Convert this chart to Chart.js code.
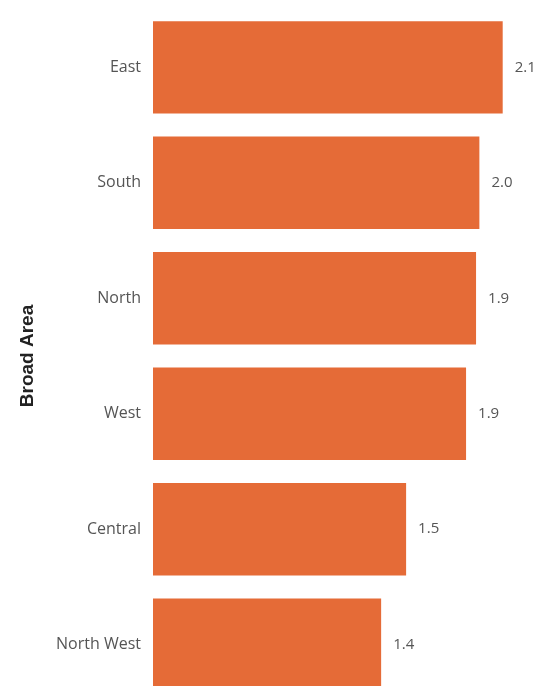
<!DOCTYPE html>
<html>
<head>
<meta charset="utf-8">
<script src="https://cdn.jsdelivr.net/npm/chart.js@4.4.0/dist/chart.umd.min.js"></script>
<style>
  html, body { margin: 0; padding: 0; background: #fff; overflow: hidden; }
  #grafico { display: block; margin-top: -12px; }
</style>
</head>
<body>
<canvas id="grafico" width="541" height="736"></canvas>
<script>
// dados
var areas = ['East', 'South', 'North', 'West', 'Central', 'North West'];
var valores = [2.1, 1.96, 1.94, 1.88, 1.52, 1.37];

// rótulos de valor no fim de cada barra
var rotulosValor = {
    id: 'rotulosValor',
    afterDatasetsDraw: function (chart) {
        var ctx = chart.ctx;
        var meta = chart.getDatasetMeta(0);
        ctx.save();
        ctx.font = '15px "Open Sans"';
        ctx.fillStyle = '#555';
        ctx.textAlign = 'left';
        ctx.textBaseline = 'middle';
        meta.data.forEach(function (bar, i) {
            ctx.fillText(valores[i].toFixed(1), bar.x + 12, bar.y);
        });
        ctx.restore();
    }
};

new Chart(document.getElementById('grafico'), {
    type: 'bar',
    data: {
        labels: areas,
        datasets: [{
            data: valores,
            backgroundColor: '#E56B37',
            borderWidth: 0,
            categoryPercentage: 0.8,
            barPercentage: 1.0
        }]
    },
    options: {
        indexAxis: 'y',
        responsive: false,
        animation: false,
        layout: { padding: { top: 0, bottom: 0, right: 5, left: 0 } },
        plugins: {
            legend: { display: false },
            tooltip: { enabled: false }
        },
        scales: {
            x: {
                display: false,
                min: 0,
                max: 2.3
            },
            y: {
                grid: { display: false, drawTicks: false },
                border: { display: false },
                ticks: {
                    color: '#555',
                    padding: 12,
                    font: { family: 'Open Sans', size: 16 }
                },
                title: {
                    display: true,
                    text: 'Broad Area',
                    color: '#222',
                    padding: { top: 16, bottom: 0 },
                    font: { family: 'Liberation Sans', size: 19, weight: 'bold' }
                },
                afterFit: function (axis) {
                    axis.width = 153;
                }
            }
        }
    },
    plugins: [rotulosValor]
});
</script>
</body>
</html>
